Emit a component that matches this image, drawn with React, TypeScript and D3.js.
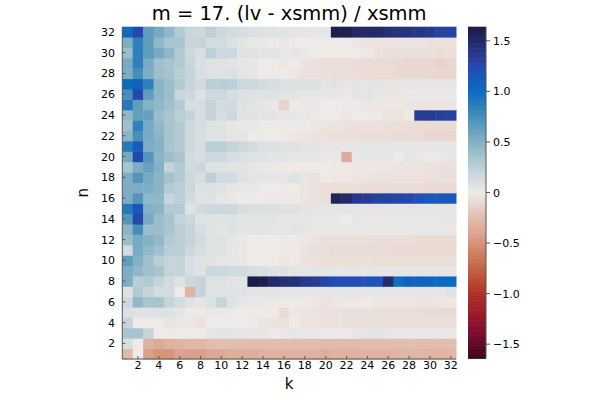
import * as d3 from "d3";

// rows listed from n = 1 (bottom) to n = 32 (top), columns k = 1..32
const kCats = [1, 2, 3, 4, 5, 6, 7, 8, 9, 10, 11, 12, 13, 14, 15, 16, 17, 18, 19, 20, 21, 22, 23, 24, 25, 26, 27, 28, 29, 30, 31, 32];
const nCats = [1, 2, 3, 4, 5, 6, 7, 8, 9, 10, 11, 12, 13, 14, 15, 16, 17, 18, 19, 20, 21, 22, 23, 24, 25, 26, 27, 28, 29, 30, 31, 32];

const rowN1 = [-0.27, 0.0, -0.42, -0.48, -0.48, -0.4, -0.42, -0.42, -0.37, -0.37, -0.33, -0.33, -0.33, -0.31, -0.31, -0.31, -0.31, -0.31, -0.31, -0.33, -0.31, -0.31, -0.31, -0.31, -0.31, -0.31, -0.29, -0.29, -0.29, -0.3, -0.3, -0.29];
const rowN2 = [0.12, 0.0, -0.32, -0.36, -0.32, -0.3, -0.28, -0.28, -0.25, -0.23, -0.23, -0.25, -0.25, -0.25, -0.25, -0.25, -0.25, -0.25, -0.25, -0.26, -0.26, -0.26, -0.26, -0.25, -0.25, -0.25, -0.25, -0.24, -0.25, -0.25, -0.25, -0.24];
const rowN3 = [0.35, 0.35, 0.22, 0.0, 0.0, 0.0, 0.0, 0.0, 0.05, 0.06, 0.05, 0.05, 0.04, 0.04, 0.0, 0.02, 0.04, 0.02, 0.02, 0.01, 0.01, 0.0, 0.05, 0.05, 0.06, 0.04, 0.02, 0.02, 0.02, 0.02, 0.02, 0.02];
const rowN4 = [0.22, 0.0, 0.0, 0.0, 0.04, 0.02, -0.02, -0.05, 0.0, 0.0, 0.0, 0.0, -0.01, -0.03, -0.04, -0.05, 0.0, -0.03, -0.04, -0.05, -0.05, -0.06, -0.06, -0.06, -0.06, -0.06, -0.06, -0.06, -0.06, -0.06, -0.06, -0.06];
const rowN5 = [0.1, 0.08, 0.08, 0.08, 0.08, 0.05, 0.0, 0.01, 0.02, 0.02, 0.01, 0.0, 0.0, 0.0, -0.01, -0.08, -0.02, -0.03, -0.04, -0.05, -0.05, -0.06, -0.06, -0.06, -0.06, -0.07, -0.07, -0.07, -0.07, -0.08, -0.08, -0.08];
const rowN6 = [0.18, 0.45, 0.35, 0.35, 0.22, 0.15, 0.08, 0.05, 0.1, 0.22, 0.08, 0.04, 0.02, 0.02, 0.01, 0.0, 0.0, -0.01, -0.02, -0.04, -0.02, -0.01, -0.01, 0.0, -0.02, -0.02, -0.02, -0.02, -0.03, -0.03, -0.02, -0.02];
const rowN7 = [0.08, 0.3, 0.22, 0.15, 0.15, 0.0, -0.3, 0.22, 0.08, 0.08, 0.08, 0.08, 0.06, 0.06, 0.06, 0.05, 0.05, 0.04, 0.04, 0.04, 0.04, 0.04, 0.04, 0.04, 0.04, 0.04, 0.04, 0.04, 0.04, 0.04, 0.05, 0.08];
const rowN8 = [0.52, 0.27, 0.3, 0.22, 0.15, 0.08, 0.18, 0.22, 0.08, 0.08, 0.07, 0.07, 1.63, 1.6, 1.5, 1.45, 1.45, 1.38, 1.36, 1.28, 1.22, 1.22, 1.22, 1.18, 1.18, 1.48, 0.98, 1.08, 1.08, 1.05, 1.0, 1.0];
const rowN9 = [0.52, 0.45, 0.38, 0.35, 0.22, 0.22, 0.12, 0.08, 0.18, 0.18, 0.15, 0.15, 0.12, 0.1, 0.08, 0.08, 0.06, 0.05, 0.05, 0.04, 0.04, 0.04, 0.04, 0.04, 0.04, 0.04, 0.04, 0.04, 0.04, 0.04, 0.04, 0.04];
const rowN10 = [0.65, 0.5, 0.38, 0.27, 0.22, 0.22, 0.12, 0.08, 0.08, 0.05, 0.04, 0.02, 0.0, 0.0, 0.0, -0.02, -0.01, -0.04, -0.05, -0.06, -0.06, -0.06, -0.06, -0.06, -0.07, -0.07, -0.07, -0.07, -0.07, -0.07, -0.07, -0.07];
const rowN11 = [0.15, 0.55, 0.45, 0.38, 0.27, 0.27, 0.18, 0.12, 0.08, 0.08, 0.04, 0.02, 0.0, 0.0, 0.0, -0.01, -0.01, -0.04, -0.06, -0.07, -0.08, -0.08, -0.08, -0.08, -0.08, -0.08, -0.09, -0.09, -0.09, -0.09, -0.09, -0.09];
const rowN12 = [0.4, 0.55, 0.5, 0.45, 0.3, 0.27, 0.22, 0.15, 0.08, 0.08, 0.04, 0.02, 0.0, 0.0, 0.0, -0.01, 0.0, -0.02, -0.04, -0.06, -0.06, -0.06, -0.06, -0.06, -0.07, -0.07, -0.07, -0.07, -0.08, -0.08, -0.08, -0.08];
const rowN13 = [0.47, 0.75, 0.4, 0.4, 0.35, 0.27, 0.22, 0.12, 0.08, 0.05, 0.08, 0.06, 0.06, 0.06, 0.05, 0.05, 0.06, 0.04, 0.02, 0.02, 0.02, 0.02, 0.02, 0.02, 0.02, 0.02, 0.02, 0.02, 0.02, 0.02, 0.02, 0.02];
const rowN14 = [0.7, 1.25, 0.55, 0.4, 0.35, 0.22, 0.18, 0.08, 0.08, 0.08, 0.08, 0.06, 0.06, 0.06, 0.06, 0.04, 0.04, 0.04, 0.02, 0.02, 0.02, 0.0, 0.04, 0.03, 0.02, 0.02, 0.02, 0.02, 0.02, 0.03, 0.03, 0.04];
const rowN15 = [0.9, 1.15, 0.5, 0.47, 0.3, 0.3, 0.08, 0.15, 0.18, 0.18, 0.18, 0.12, 0.1, 0.1, 0.1, 0.08, 0.08, 0.06, 0.05, 0.05, 0.05, 0.05, 0.05, 0.05, 0.05, 0.05, 0.05, 0.05, 0.05, 0.05, 0.05, 0.05];
const rowN16 = [0.52, 0.7, 0.45, 0.45, 0.2, 0.27, 0.15, 0.08, 0.08, 0.04, 0.02, 0.0, 0.0, 0.0, -0.01, -0.01, -0.01, -0.03, -0.05, -0.06, 1.55, 1.5, 1.38, 1.36, 1.3, 1.3, 1.28, 1.25, 1.2, 1.15, 1.15, 1.13];
const rowN17 = [0.52, 0.52, 0.52, 0.47, 0.3, 0.27, 0.18, 0.08, 0.1, 0.08, 0.04, 0.02, 0.02, 0.0, 0.0, -0.01, 0.0, -0.03, -0.05, -0.07, -0.07, -0.07, -0.07, -0.08, -0.08, -0.08, -0.08, -0.08, -0.08, -0.09, -0.09, -0.09];
const rowN18 = [0.52, 0.7, 0.55, 0.47, 0.36, 0.3, 0.18, 0.12, 0.25, 0.15, 0.15, 0.08, 0.06, 0.05, 0.05, 0.05, 0.08, 0.04, -0.05, 0.0, -0.02, -0.02, -0.03, -0.03, -0.04, -0.04, -0.05, -0.05, -0.05, -0.06, -0.06, -0.06];
const rowN19 = [0.35, 0.52, 0.62, 0.5, 0.22, 0.3, 0.15, 0.18, 0.08, 0.08, 0.07, 0.07, 0.04, 0.02, 0.02, 0.01, 0.0, 0.0, 0.0, 0.0, -0.01, -0.01, -0.02, -0.02, -0.02, -0.02, -0.03, -0.03, -0.03, -0.05, -0.05, -0.05];
const rowN20 = [0.55, 1.25, 0.7, 0.47, 0.4, 0.35, 0.15, 0.12, 0.18, 0.18, 0.12, 0.1, 0.08, 0.08, 0.06, 0.06, 0.04, 0.04, 0.04, 0.02, 0.02, -0.35, 0.02, 0.04, 0.04, 0.04, 0.0, 0.04, 0.02, 0.01, 0.02, 0.04];
const rowN21 = [0.9, 1.12, 0.52, 0.5, 0.35, 0.3, 0.18, 0.12, 0.27, 0.27, 0.22, 0.18, 0.15, 0.1, 0.1, 0.08, 0.08, 0.06, 0.06, 0.05, 0.04, 0.04, 0.04, 0.04, 0.04, 0.04, 0.04, 0.04, 0.04, 0.04, 0.04, 0.04];
const rowN22 = [0.47, 0.75, 0.55, 0.47, 0.35, 0.3, 0.18, 0.12, 0.08, 0.08, 0.05, 0.05, 0.0, 0.0, 0.0, -0.01, -0.02, -0.03, -0.04, -0.05, -0.06, -0.06, -0.06, -0.07, -0.07, -0.07, -0.08, -0.08, -0.08, -0.1, -0.1, -0.1];
const rowN23 = [0.38, 0.85, 0.55, 0.45, 0.35, 0.3, 0.18, 0.12, 0.08, 0.08, 0.04, 0.02, 0.02, 0.0, 0.0, -0.01, 0.0, 0.0, -0.02, -0.03, -0.04, -0.05, -0.05, -0.05, -0.05, -0.06, -0.06, -0.07, -0.08, -0.08, -0.08, -0.08];
const rowN24 = [0.45, 0.62, 0.62, 0.4, 0.35, 0.27, 0.22, 0.12, 0.22, 0.12, 0.18, 0.08, 0.08, 0.06, 0.06, 0.04, 0.04, 0.02, 0.01, 0.0, 0.0, -0.02, 0.0, 0.0, -0.01, -0.04, -0.04, 0.0, 1.35, 1.35, 1.32, 1.3];
const rowN25 = [0.9, 0.65, 0.5, 0.45, 0.38, 0.3, 0.12, 0.12, 0.22, 0.15, 0.15, 0.08, 0.07, 0.04, 0.02, -0.12, 0.0, 0.02, 0.02, 0.0, 0.0, -0.01, -0.01, -0.02, -0.02, -0.02, -0.02, -0.03, -0.03, -0.03, -0.03, -0.03];
const rowN26 = [0.75, 1.25, 0.65, 0.47, 0.4, 0.2, 0.18, 0.08, 0.18, 0.18, 0.12, 0.1, 0.08, 0.08, 0.08, 0.06, 0.06, 0.04, 0.04, 0.04, 0.04, 0.02, 0.06, 0.06, 0.04, 0.03, 0.03, 0.02, 0.02, 0.02, 0.02, 0.02];
const rowN27 = [1.0, 1.08, 0.85, 0.47, 0.4, 0.3, 0.2, 0.15, 0.27, 0.27, 0.25, 0.18, 0.18, 0.15, 0.12, 0.1, 0.1, 0.1, 0.1, 0.06, 0.07, 0.05, 0.06, 0.06, 0.06, 0.05, 0.05, 0.05, 0.05, 0.04, 0.05, 0.05];
const rowN28 = [0.52, 0.75, 0.52, 0.4, 0.36, 0.27, 0.22, 0.12, 0.08, 0.08, 0.1, 0.06, 0.04, 0.0, 0.0, 0.0, -0.02, -0.05, -0.05, -0.06, -0.07, -0.07, -0.07, -0.08, -0.08, -0.08, -0.09, -0.1, -0.09, -0.1, -0.1, -0.1];
const rowN29 = [0.55, 0.85, 0.55, 0.38, 0.35, 0.3, 0.2, 0.1, 0.08, 0.08, 0.07, 0.04, 0.03, 0.0, 0.0, -0.02, 0.0, -0.03, -0.05, -0.07, -0.07, -0.07, -0.08, -0.08, -0.08, -0.08, -0.09, -0.1, -0.1, -0.1, -0.12, -0.1];
const rowN30 = [0.4, 0.85, 0.65, 0.55, 0.45, 0.3, 0.18, 0.12, 0.25, 0.18, 0.18, 0.08, 0.08, 0.06, 0.07, 0.03, 0.05, 0.02, 0.0, 0.0, 0.0, 0.0, 0.0, -0.01, -0.04, -0.06, -0.06, -0.06, -0.06, -0.06, -0.07, -0.06];
const rowN31 = [0.52, 0.85, 0.65, 0.45, 0.35, 0.35, 0.2, 0.22, 0.15, 0.15, 0.1, 0.06, 0.03, 0.03, 0.0, 0.03, 0.0, 0.0, 0.0, 0.0, 0.0, 0.0, -0.02, -0.03, -0.03, -0.03, -0.03, -0.03, -0.03, -0.05, -0.04, -0.05];
const rowN32 = [1.0, 1.25, 0.65, 0.55, 0.45, 0.3, 0.2, 0.18, 0.25, 0.18, 0.15, 0.12, 0.1, 0.08, 0.08, 0.06, 0.05, 0.05, 0.04, 0.04, 1.6, 1.6, 1.52, 1.52, 1.5, 1.46, 1.44, 1.42, 1.4, 1.36, 1.3, 1.3];

const rows = [rowN1, rowN2, rowN3, rowN4, rowN5, rowN6, rowN7, rowN8, rowN9, rowN10, rowN11, rowN12, rowN13, rowN14, rowN15, rowN16,
  rowN17, rowN18, rowN19, rowN20, rowN21, rowN22, rowN23, rowN24, rowN25, rowN26, rowN27, rowN28, rowN29, rowN30, rowN31, rowN32];

const tickCats = [2, 4, 6, 8, 10, 12, 14, 16, 18, 20, 22, 24, 26, 28, 30, 32];
const cbTicks = [-1.5, -1.0, -0.5, 0, 0.5, 1.0, 1.5];
const cbLabels = ["\u22121.5", "\u22121.0", "\u22120.5", "0", "0.5", "1.0", "1.5"];
const vmax = 1.64;

// balance-like diverging map, blue for positive
const cStops = [-1.64, -1.4, -1.2, -1.0, -0.8, -0.6, -0.4, -0.2, 0, 0.2, 0.4, 0.6, 0.8, 1.0, 1.2, 1.35, 1.5, 1.64];
const cCols = ["#3c0915", "#7a0c30", "#9a1a2a", "#b03024", "#c05a3a", "#cc8060", "#dca490", "#e4c4b8", "#eeeae8",
  "#c8d6dc", "#9cbecb", "#6aa4c0", "#3a88b8", "#0a6cc0", "#2050b8", "#283c94", "#232a6a", "#1a1a44"];

const W = 600, H = 400;
const L = 122.3, R = 456, T = 26.7, B = 359;
const font = "'DejaVu Sans', sans-serif";

export default function App() {
  const x = d3.scaleBand<number>().domain(kCats).range([L, R]).padding(0);
  const y = d3.scaleBand<number>().domain(nCats).range([B, T]).padding(0);
  const color = d3.scaleLinear<string>().domain(cStops).range(cCols).interpolate(d3.interpolateRgb).clamp(true);

  const cbX = 468, cbW = 18;
  const cy = d3.scaleLinear().domain([-vmax, vmax]).range([B - 0.7, T]);
  const cbSteps = d3.range(0, 200);

  const bw = x.bandwidth(), bh = y.bandwidth();

  return (
    <svg width={W} height={H} style={{ position: "absolute", left: 0, top: 0, background: "#fff" }} fontFamily={font}>
      <rect x={0} y={0} width={W} height={H} fill="#fff" />
      <text x={(L + R) / 2} y={20} textAnchor="middle" fontSize={19.5} fill="#000">m = 17. (lv - xsmm) / xsmm</text>

      {rows.map((row, i) =>
        row.map((v, j) => (
          <rect key={`${i}-${j}`} x={x(kCats[j])!} y={y(nCats[i])!} width={bw + 0.5} height={bh + 0.5} fill={color(v)} />
        ))
      )}

      <line x1={L} x2={L} y1={T} y2={B} stroke="#555" strokeWidth={1} />
      <line x1={L} x2={R} y1={B} y2={B} stroke="#555" strokeWidth={1} />

      {tickCats.map(k => {
        const cx = x(k)! + bw / 2;
        return (
          <g key={`xt${k}`}>
            <line x1={cx} x2={cx} y1={B} y2={B - 3} stroke="#555" strokeWidth={1} />
            <text x={cx} y={369} textAnchor="middle" fontSize={11} fill="#000">{k}</text>
          </g>
        );
      })}
      {tickCats.map(n => {
        const ty = y(n)! + bh / 2;
        return (
          <g key={`yt${n}`}>
            <line x1={L} x2={L + 3} y1={ty} y2={ty} stroke="#555" strokeWidth={1} />
            <text x={115} y={ty + 4} textAnchor="end" fontSize={11} fill="#000">{n}</text>
          </g>
        );
      })}

      <text x={289} y={389} textAnchor="middle" fontSize={15} fill="#000">k</text>
      <text transform={`translate(88,${(T + B) / 2}) rotate(-90)`} textAnchor="middle" fontSize={15} fill="#000">n</text>

      {cbSteps.map(i => {
        const v0 = -vmax + (2 * vmax * i) / 200;
        const v1 = -vmax + (2 * vmax * (i + 1)) / 200;
        return (
          <rect key={`cb${i}`} x={cbX} y={cy(v1)} width={cbW} height={cy(v0) - cy(v1) + 0.6} fill={color((v0 + v1) / 2)} />
        );
      })}
      <line x1={cbX + cbW} x2={cbX + cbW} y1={T} y2={B - 0.7} stroke="#555" strokeWidth={1} />
      {cbTicks.map((t, i) => (
        <g key={`cbt${i}`}>
          <line x1={cbX + cbW} x2={cbX + cbW + 4} y1={cy(t)} y2={cy(t)} stroke="#555" strokeWidth={1} />
          <text x={cbX + cbW + 7} y={cy(t) + 4} fontSize={11} fill="#000">{cbLabels[i]}</text>
        </g>
      ))}
    </svg>
  );
}
